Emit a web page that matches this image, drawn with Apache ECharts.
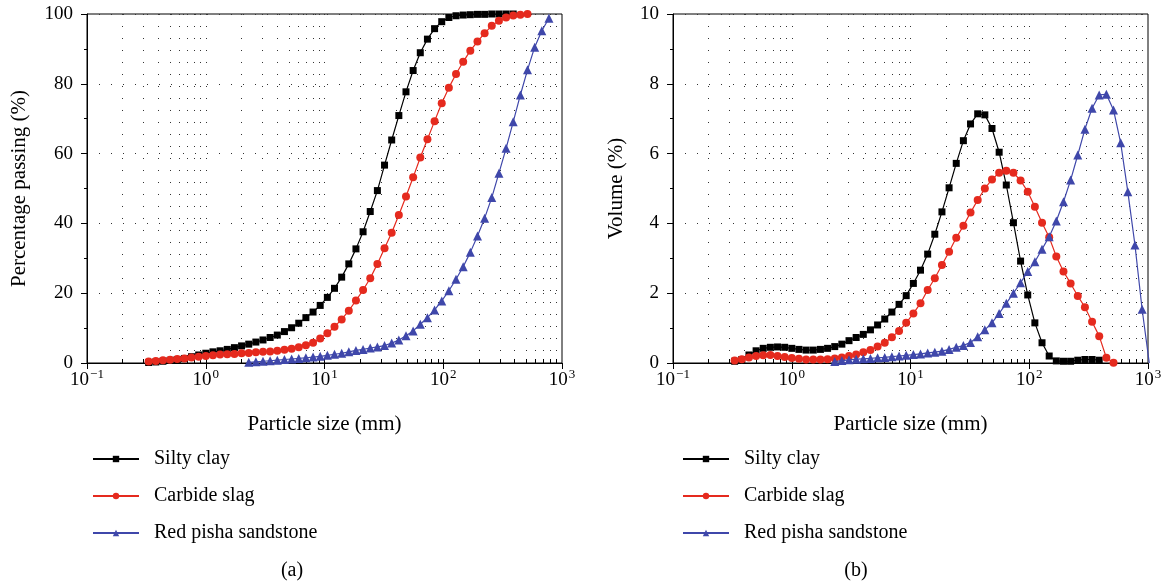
<!DOCTYPE html>
<html><head><meta charset="utf-8">
<script src="https://cdn.jsdelivr.net/npm/echarts@6/dist/echarts.min.js"></script>
<style>html,body{margin:0;padding:0;background:#fff}#c{width:1166px;height:584px}</style>
</head><body><div id="c"></div>
<script>
// particle size bins (mm)
const sizes = [0.3304,0.3796,0.4360,0.5010,0.5752,0.6607,0.7590,0.8717,1.0014,1.150,
  1.321,1.518,1.744,2.003,2.301,2.642,3.035,3.486,4.005,4.600,
  5.284,6.070,6.972,8.010,9.200,10.57,12.14,13.95,16.02,18.40,
  21.13,24.28,27.89,32.03,36.80,42.27,48.55,55.78,64.07,73.59,
  84.53,97.10,111.5,128.1,147.2,169.0,194.2,223.0,256.2,294.3,
  338.1,388.3,446.1,512.4,588.6,676.1,776.6,892.1,1025];

const seriesNames = ['Silty clay', 'Carbide slag', 'Red pisha sandstone'];
// index in sizes where each series starts
const startSiltyClay = 0;
const startCarbideSlag = 0;
const startRedPisha = 14;

// (a) percentage passing (%)
const passSiltyClay = [0.15,0.3,0.5,0.75,1.0,1.3,1.8,2.3,2.8,3.2,
  3.5,3.9,4.4,4.9,5.4,6.0,6.6,7.3,8.0,9.0,
  10.1,11.4,13.0,14.6,16.5,18.8,21.4,24.6,28.4,32.7,
  37.6,43.4,49.4,56.7,63.9,70.9,77.7,83.8,88.9,92.8,
  95.8,97.8,99.0,99.5,99.7,99.8,99.9,99.9,100,100,100,100];
const passCarbideSlag = [0.4,0.6,0.8,0.95,1.15,1.3,1.6,1.8,2.0,2.2,
  2.4,2.5,2.6,2.8,2.9,3.1,3.2,3.3,3.5,3.8,
  4.1,4.5,5.1,5.8,7.0,8.5,10.4,12.5,15.0,17.9,
  20.9,24.3,28.4,32.9,37.3,42.4,47.7,53.2,58.9,64.1,
  69.3,74.4,78.9,82.8,86.3,89.5,92.1,94.5,96.6,98.1,
  99.0,99.6,99.8,100];
const passRedPisha = [0.2,0.35,0.5,0.65,0.8,1.0,1.15,1.3,1.5,1.7,
  1.9,2.2,2.5,2.8,3.2,3.6,3.9,4.3,4.6,5.0,
  5.7,6.6,7.8,9.2,11.1,13.0,15.2,17.8,20.7,24.0,
  27.6,31.7,36.4,41.5,47.4,54.4,61.5,69.1,76.8,84.0,
  90.5,95.2,98.8];

// (b) volume (%)
const volSiltyClay = [0.05,0.1,0.23,0.35,0.42,0.45,0.46,0.45,0.42,0.39,
  0.37,0.37,0.39,0.42,0.47,0.54,0.64,0.73,0.82,0.95,
  1.09,1.26,1.46,1.68,1.93,2.28,2.66,3.12,3.69,4.33,
  5.02,5.72,6.37,6.85,7.14,7.11,6.72,6.04,5.10,4.02,
  2.92,1.95,1.15,0.58,0.20,0.06,0.05,0.05,0.08,0.10,0.10,0.08];
const volCarbideSlag = [0.07,0.11,0.16,0.20,0.22,0.23,0.20,0.17,0.14,0.12,
  0.10,0.10,0.10,0.11,0.13,0.16,0.20,0.24,0.31,0.37,
  0.47,0.58,0.74,0.92,1.15,1.42,1.71,2.09,2.43,2.81,
  3.19,3.59,3.93,4.31,4.67,5.0,5.26,5.45,5.51,5.45,
  5.23,4.91,4.48,4.02,3.60,3.05,2.62,2.28,1.92,1.60,
  1.18,0.77,0.15,0.01];
const volRedPisha = [0.04,0.07,0.09,0.11,0.12,0.13,0.15,0.16,0.18,0.20,
  0.22,0.24,0.26,0.29,0.31,0.34,0.39,0.45,0.50,0.59,
  0.75,0.95,1.15,1.42,1.71,2.0,2.30,2.62,2.90,3.26,
  3.62,4.07,4.62,5.24,5.96,6.70,7.30,7.68,7.70,7.25,
  6.31,4.91,3.38,1.54,0];

// axis ticks
const xMajorTicks = [0.1, 1, 10, 100, 1000];
const xGridTicks = [0.2,0.3,0.4,0.5,0.6,0.7,0.8,0.9,1,2,3,4,5,6,7,8,9,10,
  20,30,40,50,60,70,80,90,100,200,300,400,500,600,700,800,900];

const FONT = '"Liberation Serif", "Times New Roman", serif';
const COLORS = ['#000000', '#e52a1e', '#3f47aa'];
const SYMBOLS = ['rect', 'circle', 'triangle'];
const SYMSIZE = [7, 8, 9];

function pairs(vals, start) { return vals.map((v, i) => [sizes[start + i], v]); }

function supLabel(v) {
  const e = Math.round(Math.log10(v));
  return '{b|10}{s|' + (e < 0 ? '\u2212' + (-e) : String(e)) + '}';
}

const dotted = { type: [1, 11], color: '#333', width: 1 };

function xMain(gi) {
  return {
    gridIndex: gi, type: 'log', logBase: 10, min: 0.1, max: 1000, position: 'bottom',
    name: 'Particle size (mm)', nameLocation: 'middle', nameGap: 51,
    nameTextStyle: { fontFamily: FONT, fontSize: 21, color: '#000' },
    axisLine: { show: true, lineStyle: { color: '#000', width: 1 } },
    axisTick: { show: true, inside: false, length: 6, customValues: xMajorTicks, lineStyle: { color: '#000' } },
    axisLabel: {
      customValues: xMajorTicks, margin: 8, formatter: supLabel, color: '#000',
      rich: {
        b: { fontFamily: FONT, fontSize: 19, color: '#000', lineHeight: 19, verticalAlign: 'bottom' },
        s: { fontFamily: FONT, fontSize: 13, color: '#000', lineHeight: 13, verticalAlign: 'bottom', padding: [0, 0, 9, 1] }
      }
    },
    splitLine: { show: false }, minorTick: { show: false }
  };
}
function xMinor(gi) {
  return {
    gridIndex: gi, type: 'log', logBase: 10, min: 0.1, max: 1000, position: 'bottom',
    axisLine: { show: false },
    axisTick: { show: true, inside: true, length: 4, customValues: xGridTicks, lineStyle: { color: '#000' } },
    axisLabel: { show: false },
    splitLine: { show: true, lineStyle: dotted }, minorTick: { show: false }
  };
}
function yAx(gi, max, interval, name, gap) {
  return {
    gridIndex: gi, type: 'value', min: 0, max: max, interval: interval,
    name: name, nameLocation: 'middle', nameGap: gap,
    nameTextStyle: { fontFamily: FONT, fontSize: 21, color: '#000' },
    axisLine: { show: true, lineStyle: { color: '#000', width: 1 } },
    axisTick: { show: true, length: 6, lineStyle: { color: '#000' } },
    minorTick: { show: true, splitNumber: 2, length: 3, lineStyle: { color: '#000' } },
    axisLabel: { fontFamily: FONT, fontSize: 19, color: '#000', margin: 14 },
    splitLine: { show: true, lineStyle: dotted }
  };
}

function mkSeries(name, idx, data, axisIdx) {
  return {
    name: name, type: 'line', xAxisIndex: axisIdx, yAxisIndex: axisIdx / 2,
    data: data, symbol: SYMBOLS[idx], symbolSize: SYMSIZE[idx], showSymbol: true,
    itemStyle: { color: COLORS[idx] }, lineStyle: { color: COLORS[idx], width: 1.2 },
    clip: true, animation: false, z: 3 + idx
  };
}

function legendAt(left) {
  return {
    left: left, top: 443, orient: 'vertical', itemWidth: 46, itemHeight: 8, itemGap: 15,
    selectedMode: false, data: seriesNames,
    textStyle: { fontFamily: FONT, fontSize: 20, color: '#000', lineHeight: 22, padding: [0, 0, 0, 10] }
  };
}

const chart = echarts.init(document.getElementById('c'), null, { renderer: 'canvas' });
chart.setOption({
  animation: false,
  backgroundColor: '#fff',
  grid: [
    { left: 87, top: 14, width: 475, height: 349, show: true, borderColor: '#000', borderWidth: 1, backgroundColor: 'transparent', outerBoundsMode: 'none' },
    { left: 673, top: 14, width: 475, height: 349, show: true, borderColor: '#000', borderWidth: 1, backgroundColor: 'transparent', outerBoundsMode: 'none' }
  ],
  xAxis: [xMain(0), xMinor(0), xMain(1), xMinor(1)],
  yAxis: [
    yAx(0, 100, 20, 'Percentage passing (%)', 57),
    yAx(1, 10, 2, 'Volume (%)', 46)
  ],
  legend: [legendAt(87), legendAt(677)],
  graphic: [
    { type: 'text', x: 292, y: 571, style: { text: '(a)', font: '20px ' + FONT, fill: '#000', align: 'center', verticalAlign: 'middle' } },
    { type: 'text', x: 856, y: 571, style: { text: '(b)', font: '20px ' + FONT, fill: '#000', align: 'center', verticalAlign: 'middle' } }
  ],
  series: [
    mkSeries(seriesNames[0], 0, pairs(passSiltyClay, startSiltyClay), 0),
    mkSeries(seriesNames[1], 1, pairs(passCarbideSlag, startCarbideSlag), 0),
    mkSeries(seriesNames[2], 2, pairs(passRedPisha, startRedPisha), 0),
    mkSeries(seriesNames[0], 0, pairs(volSiltyClay, startSiltyClay), 2),
    mkSeries(seriesNames[1], 1, pairs(volCarbideSlag, startCarbideSlag), 2),
    mkSeries(seriesNames[2], 2, pairs(volRedPisha, startRedPisha), 2)
  ]
});
</script></body></html>
